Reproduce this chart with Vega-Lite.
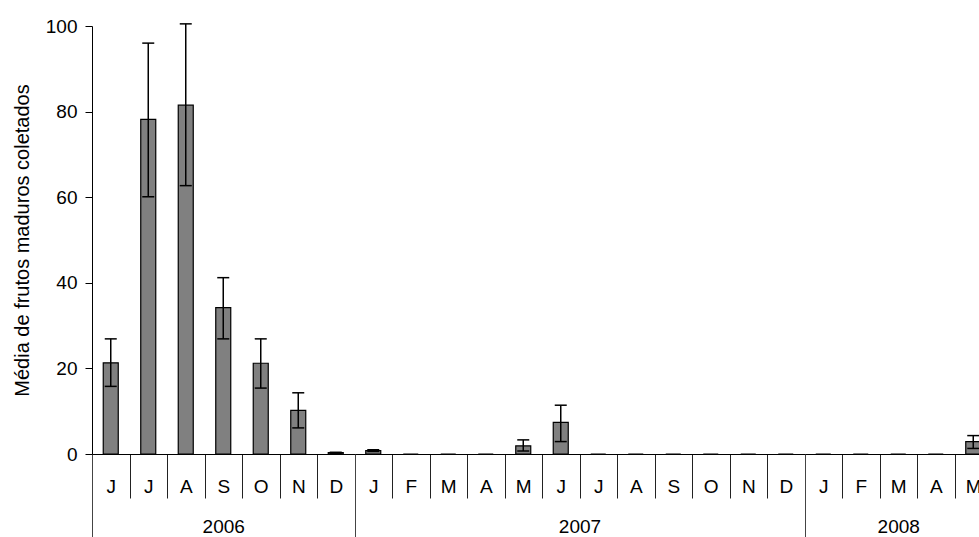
{
  "$schema": "https://vega.github.io/schema/vega-lite/v6.json",
  "autosize": "none",
  "width": 887,
  "height": 428,
  "padding": {"left": 92, "top": 26, "right": 0, "bottom": 83},
  "background": "white",
  "config": {
    "view": {"stroke": null},
    "font": "Liberation Sans",
    "axis": {"grid": false, "labelColor": "#000", "titleColor": "#000", "domainColor": "#000", "tickColor": "#000", "labelFont": "Liberation Sans", "titleFont": "Liberation Sans"}
  },
  "datasets": {
    "meses": [
      {"periodo": "2006-06", "media": 21.3, "inf": 15.8, "sup": 26.9},
      {"periodo": "2006-07", "media": 78.2, "inf": 60.1, "sup": 96.0},
      {"periodo": "2006-08", "media": 81.5, "inf": 62.7, "sup": 100.5},
      {"periodo": "2006-09", "media": 34.2, "inf": 26.9, "sup": 41.2},
      {"periodo": "2006-10", "media": 21.2, "inf": 15.4, "sup": 26.9},
      {"periodo": "2006-11", "media": 10.2, "inf": 6.1, "sup": 14.3},
      {"periodo": "2006-12", "media": 0.3, "inf": 0.2, "sup": 0.4},
      {"periodo": "2007-01", "media": 0.8, "inf": 0.6, "sup": 1.0},
      {"periodo": "2007-02", "media": 0, "inf": null, "sup": null},
      {"periodo": "2007-03", "media": 0, "inf": null, "sup": null},
      {"periodo": "2007-04", "media": 0, "inf": null, "sup": null},
      {"periodo": "2007-05", "media": 1.9, "inf": 0.7, "sup": 3.3},
      {"periodo": "2007-06", "media": 7.4, "inf": 2.9, "sup": 11.4},
      {"periodo": "2007-07", "media": 0, "inf": null, "sup": null},
      {"periodo": "2007-08", "media": 0, "inf": null, "sup": null},
      {"periodo": "2007-09", "media": 0, "inf": null, "sup": null},
      {"periodo": "2007-10", "media": 0, "inf": null, "sup": null},
      {"periodo": "2007-11", "media": 0, "inf": null, "sup": null},
      {"periodo": "2007-12", "media": 0, "inf": null, "sup": null},
      {"periodo": "2008-01", "media": 0, "inf": null, "sup": null},
      {"periodo": "2008-02", "media": 0, "inf": null, "sup": null},
      {"periodo": "2008-03", "media": 0, "inf": null, "sup": null},
      {"periodo": "2008-04", "media": 0, "inf": null, "sup": null},
      {"periodo": "2008-05", "media": 2.9, "inf": 1.3, "sup": 4.3}
    ],
    "anos": [
      {"ano": "2006", "limite": 0},
      {"ano": "2007", "limite": 7},
      {"ano": "2008", "limite": 19},
      {"ano": "fim", "limite": 24}
    ]
  },
  "layer": [
    {
      "layer": [
        {
          "data": {"name": "meses"},
          "mark": {"type": "bar", "width": {"band": 0.4}, "fill": "#808080", "stroke": "#000", "strokeWidth": 1.2},
          "encoding": {
            "x": {
              "field": "periodo", "type": "ordinal",
              "scale": {"paddingInner": 0, "paddingOuter": 0, "range": [0, 900]},
              "axis": {
                "title": null, "tickBand": "extent", "tickSize": 44, "tickColor": "#222", "domainColor": "#000",
                "labelAngle": 0, "labelFontSize": 19, "labelBaseline": "middle", "labelPadding": -12,
                "labelExpr": "['J','F','M','A','M','J','J','A','S','O','N','D'][toNumber(substring(datum.value,5,7))-1]"
              }
            },
            "y": {
              "field": "media", "type": "quantitative",
              "scale": {"domain": [0, 100], "nice": false},
              "title": "Média de frutos maduros coletados",
              "axis": {"values": [0, 20, 40, 60, 80, 100], "tickSize": 7, "labelPadding": 8, "labelFontSize": 19, "titleFontSize": 20, "titleFontWeight": "normal", "titlePadding": 13}
            }
          }
        },
        {
          "data": {"name": "meses"},
          "mark": {"type": "rule", "stroke": "#000", "strokeWidth": 1.5},
          "encoding": {
            "x": {"field": "periodo", "type": "ordinal"},
            "y": {"field": "inf", "type": "quantitative", "title": "Média de frutos maduros coletados"},
            "y2": {"field": "sup"}
          }
        },
        {
          "data": {"name": "meses"},
          "mark": {"type": "tick", "color": "#000", "size": 12, "thickness": 1.5, "opacity": 1},
          "encoding": {
            "x": {"field": "periodo", "type": "ordinal"},
            "y": {"field": "sup", "type": "quantitative", "title": "Média de frutos maduros coletados"}
          }
        },
        {
          "data": {"name": "meses"},
          "mark": {"type": "tick", "color": "#000", "size": 12, "thickness": 1.5, "opacity": 1},
          "encoding": {
            "x": {"field": "periodo", "type": "ordinal"},
            "y": {"field": "inf", "type": "quantitative", "title": "Média de frutos maduros coletados"}
          }
        }
      ]
    },
    {
      "data": {"name": "anos"},
      "mark": {"type": "point", "opacity": 0},
      "encoding": {
        "x": {
          "field": "limite", "type": "quantitative",
          "scale": {"domain": [0, 24], "range": [0, 900], "nice": false, "zero": false},
          "axis": {
            "orient": "bottom", "title": null, "domain": false,
            "values": [0, 3.5, 7, 13, 19, 21.5],
            "tickSize": 83, "tickColor": "#444",
            "tickOpacity": {"condition": {"test": "datum.value == 0 || datum.value == 7 || datum.value == 19", "value": 1}, "value": 0},
            "labelExpr": "datum.value == 3.5 ? '2006' : datum.value == 13 ? '2007' : datum.value == 21.5 ? '2008' : ''",
            "labelFontSize": 19, "labelBaseline": "middle", "labelPadding": -11,
            "labelFlush": false, "labelOverlap": false, "labelBound": false
          }
        }
      }
    }
  ],
  "resolve": {"scale": {"x": "independent"}, "axis": {"x": "independent"}}
}
